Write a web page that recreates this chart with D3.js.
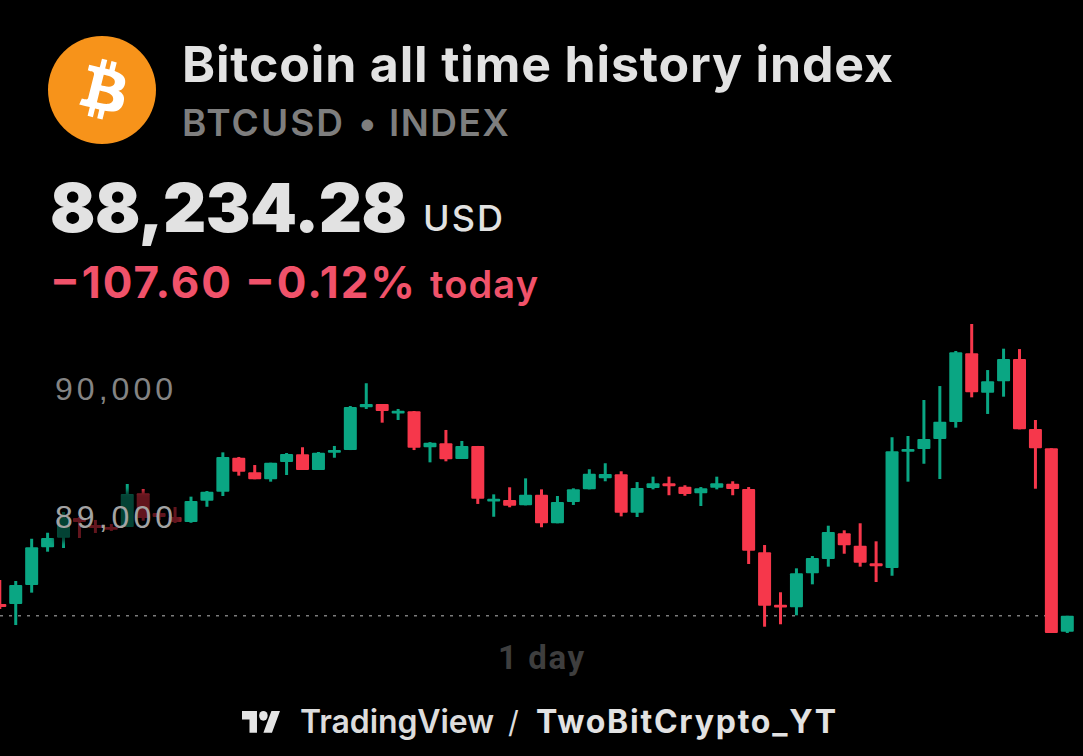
<!DOCTYPE html>
<html>
<head>
<meta charset="utf-8">
<style>
html,body{margin:0;padding:0;background:#000;overflow:hidden}
svg{display:block}
text{font-family:Inter,"Noto Sans",sans-serif}
</style>
<script src="https://cdn.jsdelivr.net/npm/d3@7/dist/d3.min.js"></script>
</head>
<body>
<svg id="chart" width="1083" height="756"></svg>
<script>
const opens = [88320,88320,88469,88763,88838,88992,88938,88922,88922,89185,89031,89000,88961,89127,89198,89463,89349,89295,89430,89490,89367,89502,89523,89857,89883,89810,89826,89545,89576,89453,89555,89123,89133,89091,89174,88951,89117,89216,89302,89334,89034,89227,89263,89237,89185,89229,89260,89219,88724,88315,88295,88560,88672,88873,88776,88638,88602,89516,89531,89609,89742,90279,89971,90060,90234,89688,89537,88104];
const highs = [88508,88500,88830,88877,89039,89000,88977,88945,89258,89219,89055,89078,89159,89203,89505,89469,89406,89424,89500,89545,89508,89555,89867,90045,89883,89844,89828,89585,89680,89594,89555,89177,89232,89302,89216,89164,89224,89373,89420,89357,89273,89315,89315,89248,89234,89315,89279,89234,88781,88412,88599,88695,88932,88896,88951,88810,89623,89633,89914,90023,90297,90508,90148,90315,90312,89758,89537,88228];
const lows = [88281,88156,88409,88729,88758,88836,88875,88891,88922,88971,88977,88953,88955,89080,89164,89323,89295,89276,89328,89367,89367,89463,89523,89844,89737,89758,89523,89427,89435,89453,89102,89002,89076,89091,88920,88951,89094,89216,89279,89005,89000,89216,89170,89166,89086,89216,89170,88633,88143,88162,88232,88474,88612,88713,88612,88492,88541,89276,89416,89297,89698,89935,89805,89940,89685,89221,88094,88094];
const closes = [88297,88469,88763,88836,88992,88961,88914,88906,89180,88992,89000,88961,89125,89198,89469,89354,89295,89424,89492,89367,89502,89523,89859,89883,89828,89830,89541,89580,89451,89555,89143,89143,89088,89174,88951,89117,89216,89338,89336,89034,89227,89263,89245,89180,89224,89263,89219,88737,88307,88295,88560,88680,88883,88779,88643,88620,89513,89531,89609,89745,90287,89974,90060,90234,89685,89537,88094,88228];
const priceTicks = [90000, 89000];
const lastPriceLevel = 88228;
const titleText = "Bitcoin all time history index";
const symbolText = "BTCUSD";
const separatorText = "•";
const exchangeText = "INDEX";
const priceText = "88,234.28";
const currencyText = "USD";
const changeText = "−107.60 −0.12%";
const todayText = "today";
const intervalText = "1 day";
const brandText = "TradingView";
const authorText = "TwoBitCrypto_YT";

const GREEN = "#0AA683", RED = "#F6374B";
const svg = d3.select("#chart");

const x = d3.scaleLinear().domain([0, 67]).range([-0.2, 1067.3]);
const y = d3.scaleLinear().domain([90000, 89000]).range([389, 517]);

svg.append("rect").attr("width", 1083).attr("height", 756).attr("fill", "#000");

// last price line
svg.append("line")
  .attr("x1", 0).attr("x2", 1046)
  .attr("y1", y(lastPriceLevel)).attr("y2", y(lastPriceLevel))
  .attr("stroke", "#7c7c7c").attr("stroke-width", 1.6).attr("stroke-dasharray", "3 6");

// candles
const idx = d3.range(opens.length);
const g = svg.append("g");
const colour = i => closes[i] >= opens[i] && !(i === 0) ? GREEN : RED;
g.selectAll("line.wick").data(idx).join("line").attr("class", "wick")
  .attr("x1", x).attr("x2", x)
  .attr("y1", i => y(highs[i])).attr("y2", i => y(lows[i]))
  .attr("stroke", colour).attr("stroke-width", 3);
g.selectAll("rect.body").data(idx).join("rect").attr("class", "body")
  .attr("x", i => x(i) - 6.5).attr("width", 13)
  .attr("y", i => Math.min(y(opens[i]), y(closes[i])))
  .attr("height", i => Math.max(2.8, Math.abs(y(opens[i]) - y(closes[i]))))
  .attr("rx", 1).attr("fill", colour);

// dimming halo behind the 89,000 label
const defs = svg.append("defs");
defs.append("filter").attr("id", "soft").attr("x", "-10%").attr("y", "-20%").attr("width", "120%").attr("height", "140%")
  .append("feGaussianBlur").attr("stdDeviation", 2.5);
svg.append("rect").attr("x", 54).attr("y", 491).attr("width", 128).attr("height", 51)
  .attr("fill", "#000").attr("opacity", 0.6).attr("filter", "url(#soft)");

function label(txt, px, py, size, weight, fill, targetW, family) {
  const t = svg.append("text").attr("x", px).attr("y", py)
    .attr("font-size", size).attr("font-weight", weight).attr("fill", fill).text(txt);
  if (family) t.style("font-family", family);
  if (targetW) t.attr("textLength", targetW).attr("lengthAdjust", "spacing");
  return t;
}

// price labels
priceTicks.forEach((d, i) => {
  label(d3.format(",")(d), 55, y(d) + 11, 32, 400, i ? "#a3a3a3" : "#848484", 118, "'Liberation Sans'");
});

// logo
svg.append("circle").attr("cx", 102).attr("cy", 90).attr("r", 54).attr("fill", "#F7931A");
svg.append("path")
  .attr("transform", "translate(56,42) scale(4)")
  .attr("fill", "#fff").attr("fill-rule", "evenodd")
  .attr("d", "M17.288 10.291c.24-1.59-.974-2.45-2.64-3.03l.54-2.153-1.315-.33-.525 2.107c-.345-.087-.705-.167-1.064-.25l.526-2.127-1.32-.33-.54 2.165c-.285-.067-.565-.132-.84-.2l-1.815-.45-.35 1.407s.975.225.955.236c.535.136.63.486.615.766l-1.477 5.92c-.075.166-.24.406-.614.314.015.02-.96-.24-.96-.24l-.66 1.51 1.71.426.93.242-.54 2.19 1.32.327.54-2.17c.36.1.705.19 1.05.273l-.51 2.154 1.32.33.545-2.19c2.24.427 3.93.257 4.64-1.774.57-1.637-.03-2.58-1.217-3.196.854-.193 1.5-.76 1.68-1.93h.01zm-3.01 4.22c-.404 1.64-3.157.75-4.05.53l.72-2.9c.896.23 3.757.67 3.33 2.37zm.41-4.24c-.37 1.49-2.662.735-3.405.55l.654-2.64c.744.18 3.137.524 2.75 2.084v.006z");

label(titleText, 182, 82, 50, 700, "#e2e2e2", 711);
label(symbolText, 182, 136, 37, 600, "#7e7e7e", 161);
label(separatorText, 358, 136, 37, 600, "#7e7e7e");
label(exchangeText, 389, 136, 37, 600, "#7e7e7e", 120);
label(priceText, 50, 232, 67, 900, "#e2e2e2", 357);
label(currencyText, 423, 231, 36, 500, "#e2e2e2", 80);
label(changeText, 50, 298, 44, 700, "#F0526A", 365);
label(todayText, 430, 298, 38, 600, "#F0526A", 108);
label(intervalText, 498, 669, 33, 700, "#3e3e3e", 86, "Roboto");

// TradingView mark
svg.append("g").attr("transform", "translate(242,706) scale(1.07,1.22)").attr("fill", "#e4e4e4")
  .call(m => {
    m.append("path").attr("d", "M14 22H7V11H0V4h14v18zM28 22h-8l7.5-18h8L28 22z");
    m.append("ellipse").attr("cx", 20).attr("cy", 8).attr("rx", 4).attr("ry", 4);
  });
label(brandText, 300, 733, 32, 600, "#dcdcdc", 194);
label("/", 508, 733, 30, 400, "#dcdcdc");
label(authorText, 536, 733, 32, 700, "#e2e2e2", 300);
</script>
</body>
</html>
